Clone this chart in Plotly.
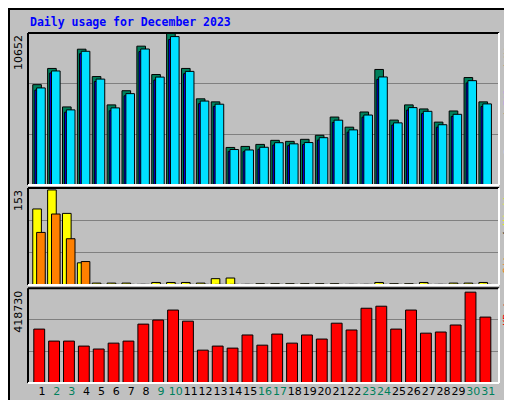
import plotly.graph_objects as go

days = list(range(1, 32))
hits = [7030, 8166, 5468, 9516, 7598, 5610, 6604, 9729, 7740, 10652, 8166, 6036, 5823, 2627, 2698,
        2840, 3125, 3054, 3196, 3480, 4758, 4048, 5113, 8095, 4545, 5610, 5326, 4403, 5184, 7527, 5823]
files = [6800, 7990, 5260, 9370, 7420, 5400, 6400, 9530, 7560, 10400, 7960, 5880, 5660, 2480, 2450,
         2640, 2960, 2880, 2970, 3310, 4540, 3860, 4900, 7570, 4350, 5420, 5160, 4220, 4950, 7310, 5680]
pages = [6650, 7850, 5100, 9200, 7250, 5200, 6250, 9350, 7350, 10200, 7800, 5700, 5500, 2350, 2330,
         2500, 2800, 2750, 2830, 3150, 4380, 3700, 4750, 7400, 4200, 5250, 5000, 4050, 4800, 7150, 5500]
visits = [120, 150, 113, 35, 3, 3, 3, 1, 4, 4, 4, 3, 10, 11, 1, 2, 2, 2, 2, 2, 2, 1, 1, 4, 2, 2, 4, 1, 3, 3, 4]
sites = [83, 112, 73, 37, 1, 1, 1, 1, 1, 1, 1, 1, 1, 1, 1, 1, 1, 1, 1, 1, 1, 1, 1, 1, 1, 1, 1, 1, 1, 1, 1]
kbytes = [238000, 185000, 185000, 163000, 150000, 176000, 185000, 260000, 278000, 322000, 273000, 145000,
          163000, 154000, 212000, 167000, 216000, 176000, 212000, 194000, 264000, 234000, 330000, 339000,
          238000, 322000, 220000, 225000, 256000, 401000, 291000]
weekend = {2, 3, 9, 10, 16, 17, 23, 24, 30, 31}
max_top, max_mid, max_bot = 10652, 153, 418730

fig = go.Figure()
line = dict(color="black", width=1)
def bar(y, color, off, w, ax):
    fig.add_trace(go.Bar(x=days, y=y, offset=off, width=w, marker=dict(color=color, line=line),
                         yaxis=ax, xaxis="x" if ax == "y" else ("x2" if ax == "y2" else "x3")))

bar(hits, "#00805C", -0.62, 0.58, "y")
bar(pages, "#0000FF", -0.48, 0.6, "y")
bar(files, "#00E0FF", -0.36, 0.58, "y")
bar(visits, "#FFFF00", -0.62, 0.58, "y2")
bar(sites, "#FF8000", -0.36, 0.58, "y2")
bar(kbytes, "#FF0000", -0.55, 0.73, "y3")

xr = [0.06, 31.73]
ticktext = [f"<span style='color:{'#00805C' if d in weekend else 'black'}'>{d}</span>" for d in days]
common_x = dict(range=xr, showgrid=False, zeroline=False, fixedrange=True, automargin=False)
def yax(mx, dom):
    return dict(range=[0, mx], domain=dom, tickvals=[mx / 3, 2 * mx / 3], showticklabels=False,
                gridcolor="#808080", gridwidth=1, zeroline=False, ticks="", automargin=False)
fig.update_layout(
    width=512, height=400, margin=dict(l=20, r=21, t=25, b=25, autoexpand=False),
    paper_bgcolor="#C0C0C0", plot_bgcolor="#C0C0C0", showlegend=False, barmode="overlay",
    font=dict(family="DejaVu Sans Mono", size=11, color="black"),
    xaxis=dict(**common_x, anchor="y", showticklabels=False),
    xaxis2=dict(**common_x, anchor="y2", showticklabels=False),
    xaxis3=dict(**common_x, anchor="y3", tickvals=days, ticktext=ticktext, tickangle=0, ticks="",
                tickfont=dict(family="DejaVu Sans", size=11)),
    yaxis=yax(max_top, [0.566, 1.0]),
    yaxis2=yax(max_mid, [0.28, 0.557]),
    yaxis3=yax(max_bot, [0.0, 0.271]),
)

shapes = [dict(type="rect", xref="paper", yref="paper", x0=-19/471, x1=490/471, y0=-24/350, y1=374/350,
               line=dict(color="black", width=2), fillcolor="rgba(0,0,0,0)", layer="below")]
for y0, y1 in [(0.566, 1.0), (0.28, 0.557), (0.0, 0.271)]:
    shapes += [
        dict(type="line", xref="paper", yref="paper", x0=0, x1=1, y0=y1, y1=y1, line=dict(color="black", width=2)),
        dict(type="line", xref="paper", yref="paper", x0=0, x1=0, y0=y0, y1=y1, line=dict(color="black", width=2)),
        dict(type="line", xref="paper", yref="paper", x0=0, x1=1, y0=y0, y1=y0, line=dict(color="white", width=2)),
        dict(type="line", xref="paper", yref="paper", x0=1, x1=1, y0=y0, y1=y1, line=dict(color="white", width=2)),
    ]
fig.update_layout(shapes=shapes)

ann = [dict(text="<b>Daily usage for December 2023</b>", xref="paper", yref="paper", x=0, y=1.0,
            xanchor="left", yanchor="bottom", showarrow=False, yshift=2,
            font=dict(family="DejaVu Sans Mono", size=11.5, color="#0000FF"))]
for lbl, ytop in [("10652", 1.0), ("153", 0.557), ("418730", 0.271)]:
    ann.append(dict(text=lbl, xref="paper", yref="paper", x=0, y=ytop, xanchor="right", yanchor="top",
                    textangle=-90, showarrow=False, xshift=-1, font=dict(family="DejaVu Sans", size=11)))
right = [
    ("<span style='color:#00E0FF'>Pages</span> / <span style='color:#0000FF'>Files</span> / <span style='color:#00805C'>Hits</span>", 1.0),
    ("<span style='color:#FF8000'>Sites</span> / <span style='color:#FFFF00'>Visits</span>", 0.557),
    ("<span style='color:#FF0000'>KBytes</span>", 0.271),
]
for t, ytop in right:
    ann.append(dict(text=t, xref="paper", yref="paper", x=1, y=ytop, xanchor="left", yanchor="top",
                    textangle=-90, showarrow=False, xshift=1, font=dict(family="DejaVu Sans Mono", size=10, color="black")))
fig.update_layout(annotations=ann)

fig.write_html("out.html")
